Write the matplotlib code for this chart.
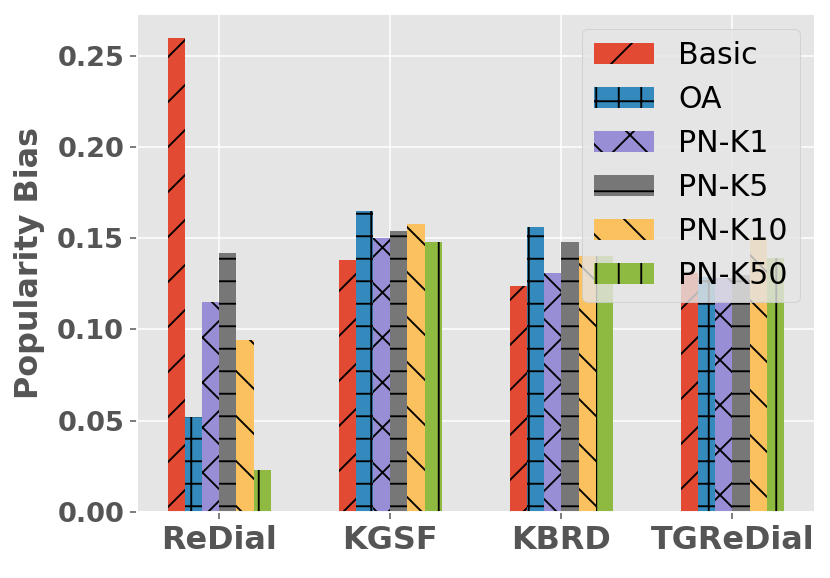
import numpy as np
import matplotlib
matplotlib.use("Agg")
import matplotlib.pyplot as plt

plt.style.use("ggplot")
plt.rcParams["hatch.color"] = "black"
plt.rcParams["hatch.linewidth"] = 1.0

# datasets on the x axis
datasets = ["ReDial", "KGSF", "KBRD", "TGReDial"]

# popularity bias per method
basic = [0.260, 0.138, 0.124, 0.131]
oa = [0.052, 0.165, 0.156, 0.129]
pn_k1 = [0.115, 0.150, 0.131, 0.128]
pn_k5 = [0.142, 0.154, 0.148, 0.130]
pn_k10 = [0.094, 0.158, 0.140, 0.150]
pn_k50 = [0.023, 0.148, 0.140, 0.139]

methods = ["Basic", "OA", "PN-K1", "PN-K5", "PN-K10", "PN-K50"]
hatches = ["/", "+", "x", "-", "\\", "|"]

fig = plt.figure(figsize=(830 / 135, 578 / 135), dpi=135)
ax = fig.add_subplot(111)
fig.subplots_adjust(left=137.3 / 830, right=814.5 / 830,
                    bottom=1 - 511.7 / 578, top=1 - 14 / 578)

x = np.arange(len(datasets))
width = 0.1
series = [basic, oa, pn_k1, pn_k5, pn_k10, pn_k50]
for i, (vals, name, h) in enumerate(zip(series, methods, hatches)):
    ax.bar(x + (i - 2.5) * width, vals, width, label=name, hatch=h)

ax.set_xticks(x)
ax.set_xticklabels(datasets, fontsize=17, fontweight="bold")
ax.tick_params(axis="y", labelsize=14.5)
for lab in ax.get_yticklabels():
    lab.set_fontweight("bold")
ax.yaxis.set_major_formatter(matplotlib.ticker.FormatStrFormatter("%.2f"))
ax.set_ylabel("Popularity Bias", fontsize=17, fontweight="bold", labelpad=6.5)

ax.legend(loc="upper right", fontsize=16)

fig.savefig("out.png", dpi=135)
